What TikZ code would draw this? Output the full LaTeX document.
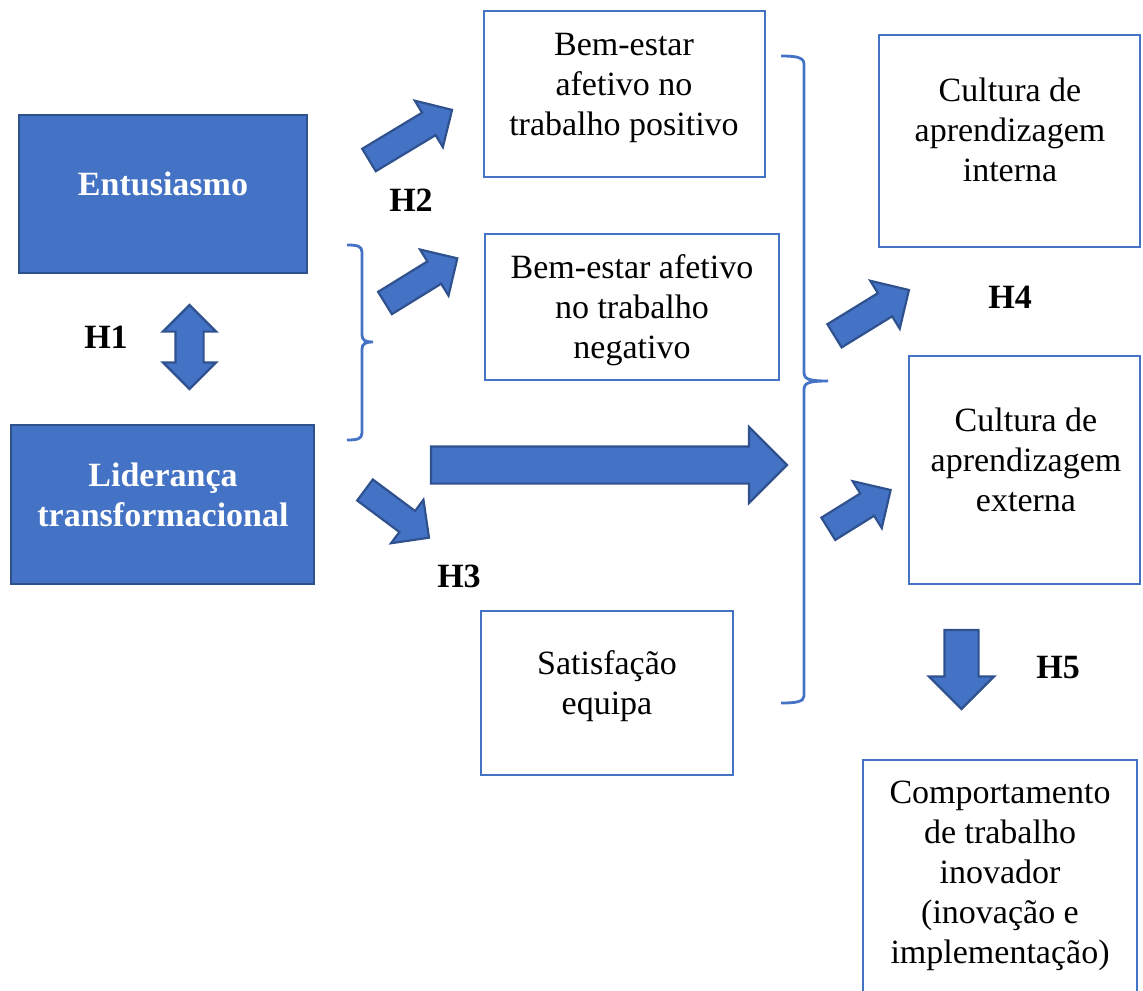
\documentclass[tikz,border=0pt]{standalone}
\usepackage{fontspec}
\setmainfont{Liberation Serif}
\usepackage{tikz}
\usetikzlibrary{shapes.arrows}
\definecolor{ofblue}{HTML}{4472C4}
\definecolor{ofdark}{HTML}{2F528F}

\begin{document}
\begin{tikzpicture}[x=0.5pt,y=-0.5pt,
    font=\fontsize{17}{20}\selectfont,
    box/.style={draw=ofblue, line width=1.3pt, inner sep=0pt, outer sep=0pt},
    filledbox/.style={draw=ofdark, fill=ofblue, line width=1.2pt, inner sep=0pt, outer sep=0pt},
    txt/.style={align=center, inner sep=0pt},
    wtxt/.style={txt, text=white, font=\fontsize{17}{20}\selectfont\bfseries},
    hyp/.style={inner sep=0pt, font=\fontsize{17}{20}\selectfont\bfseries},
    blkarrow/.style={single arrow, draw=ofdark, fill=ofblue, line width=1.1pt,
      inner xsep=0pt, inner ysep=6pt, single arrow head extend=7pt,
      outer sep=0pt, anchor=tail},
    brace/.style={draw=ofblue, line width=1.4pt}
  ]
    \useasboundingbox (0,0) rectangle (1143,990);

    % Left side: filled boxes
    \node[filledbox, minimum width=144pt, minimum height=79pt] (ent) at (163,194) {};
    \node[wtxt] (entT) at (163,184) {Entusiasmo};
    \node[filledbox, minimum width=151.5pt, minimum height=79.5pt] (lid) at (162.5,504.5) {};
    \node[wtxt] (lidT) at (163,495) {Liderança\\transformacional};

    % Middle boxes
    \node[box, minimum width=140.5pt, minimum height=83pt] (pos) at (624.5,94) {};
    \node[txt] (posT) at (624,88) {Bem-estar\\afetivo no\\trabalho positivo};
    \node[box, minimum width=147pt, minimum height=73pt] (neg) at (632,307) {};
    \node[txt] (negT) at (632,310) {Bem-estar afetivo\\no trabalho\\negativo};
    \node[box, minimum width=126pt, minimum height=82pt] (sat) at (607,693) {};
    \node[txt] (satT) at (607,686) {Satisfação\\equipa};

    % Right boxes
    \node[box, minimum width=130.5pt, minimum height=106pt] (int) at (1009.5,141) {};
    \node[txt] (intT) at (1010,130) {Cultura de\\aprendizagem\\interna};
    \node[box, minimum width=115.5pt, minimum height=114pt] (ext) at (1024.5,470) {};
    \node[txt] (extT) at (1026,460) {Cultura de\\aprendizagem\\externa};
    \node[box, minimum width=137pt, minimum height=125pt] (comp) at (1000,885) {};
    \node[txt] (compT) at (1000,876) {Comportamento\\de trabalho\\inovador\\(inovação e\\implementação)};

    % Braces
    \draw[brace] (347,245) .. controls (357,245) and (362,246) .. (362,252)
        -- (362,335) .. controls (362,340) and (365,342) .. (373,342)
        .. controls (365,342) and (362,344) .. (362,349)
        -- (362,433) .. controls (362,439) and (357,440) .. (347,440);
    \draw[brace] (781,56) .. controls (795,56) and (804,57) .. (804,64)
        -- (804,372) .. controls (804,379) and (808,381) .. (828,381)
        .. controls (808,381) and (804,383) .. (804,390)
        -- (804,696) .. controls (804,702) and (795,703) .. (781,703);

    % Block arrows
    \node[double arrow, draw=ofdark, fill=ofblue, line width=1.1pt, inner xsep=0pt,
        inner ysep=6.5pt, double arrow head extend=6.25pt, outer sep=0pt,
        minimum height=42pt, rotate=90] (a1) at (189.5,347) {};
    \node[blkarrow, rotate=31.1, minimum height=48.5pt] (a2up) at (369,160) {};
    \node[blkarrow, rotate=31.7, minimum height=42.5pt] (a2low) at (385,303) {};
    \node[blkarrow, rotate=-36.7, minimum height=39.9pt] (a3) at (365,490) {};
    \node[blkarrow, inner ysep=8.75pt, single arrow head extend=9.75pt,
        minimum height=178pt] (amain) at (431,465) {};
    \node[blkarrow, rotate=31.6, inner ysep=6.25pt, single arrow head extend=7.25pt,
        minimum height=43.7pt] (a4up) at (834.5,335.8) {};
    \node[blkarrow, rotate=31.9, inner ysep=6pt, single arrow head extend=7.25pt,
        minimum height=36.7pt] (a4low) at (828.3,528.8) {};
    \node[blkarrow, rotate=-90, inner ysep=8pt, single arrow head extend=7.75pt,
        minimum height=39.5pt] (a5) at (961.5,630) {};

    % Hypothesis labels
    \node[hyp] (h1) at (106,337) {H1};
    \node[hyp] (h2) at (411,200) {H2};
    \node[hyp] (h3) at (459,576) {H3};
    \node[hyp] (h4) at (1010,297) {H4};
    \node[hyp] (h5) at (1058,668) {H5};
\end{tikzpicture}
\end{document}
